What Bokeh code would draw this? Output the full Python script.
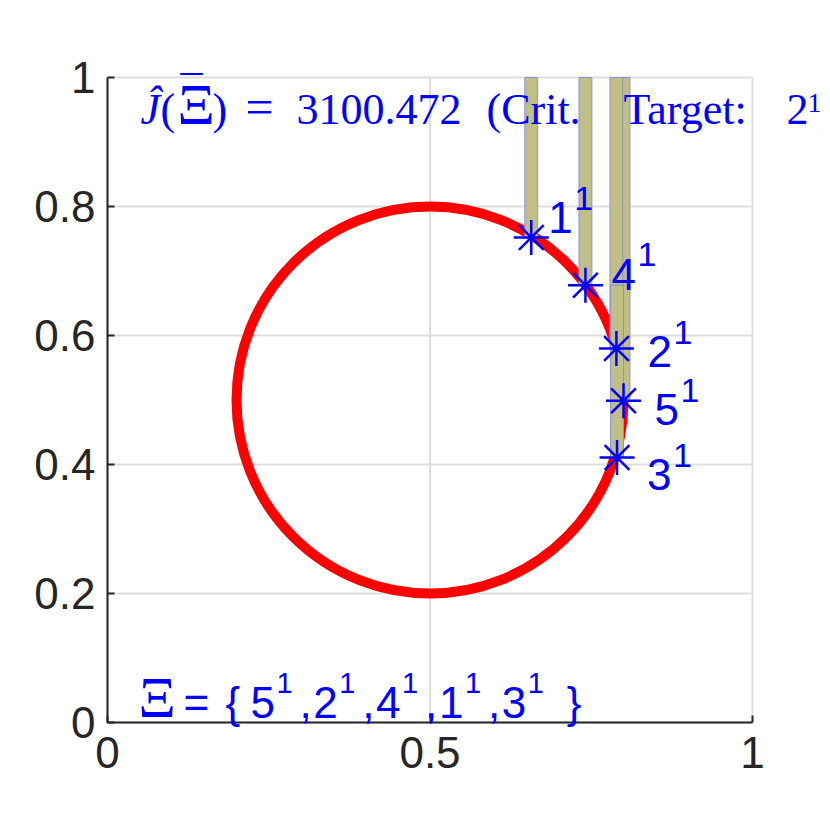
from bokeh.plotting import figure
from bokeh.models import Range1d, Label, ColumnDataSource, FixedTicker, CustomJSTickFormatter
from bokeh.embed import file_html
from bokeh.resources import INLINE
from bokeh.core.properties import value

# ---------------- data ----------------
circle_center_x = [0.5]
circle_center_y = [0.5]
circle_radius = [0.3]

point_ids = [1, 4, 5, 2, 3]
point_x = [0.657, 0.741, 0.800, 0.789, 0.790]
point_y = [0.752, 0.678, 0.499, 0.580, 0.411]
point_power = [1, 1, 1, 1, 1]
bar_top = [1.35, 1.35, 1.35, 1.35, 0.678]

sequence = [5, 2, 4, 1, 3]
sequence_power = [1, 1, 1, 1, 1]

j_value = 3100.472
crit_target = 2
crit_power = 1

x_ticks = [0, 0.5, 1]
y_ticks = [0, 0.2, 0.4, 0.6, 0.8, 1]
axis_bounds = (0, 1)

# ---------------- layout (positions / styles) ----------------
W = H = 822
FRAME = 645.0
LEFT_PX, BOTTOM_PX = 107.0, 722.0
K_BASE = 0.364  # baseline correction, fraction of font size


def sx(px):
    return (px - LEFT_PX) / FRAME


def sy(py):
    return (BOTTOM_PX - py) / FRAME


BLUE = "#0000FF"
DARK = "#262626"
SANS = "Liberation Sans"
SERIF = "Liberation Serif"

p = figure(width=W, height=H, output_backend="svg", toolbar_location=None, title=None,
           x_range=Range1d(sx(0), sx(W)), y_range=Range1d(sy(H), sy(0)), min_border=0)
p.outline_line_color = None
p.background_fill_color = "white"
p.border_fill_color = "white"
p.grid.visible = False

fmt = CustomJSTickFormatter(code="return String(tick);")
for ax, ticks in ((p.xaxis, x_ticks), (p.yaxis, y_ticks)):
    ax.ticker = FixedTicker(ticks=ticks)
    ax.formatter = fmt
    ax.fixed_location = 0
    ax.bounds = axis_bounds
    ax.axis_line_color = DARK
    ax.axis_line_width = 2
    ax.major_tick_line_color = DARK
    ax.major_tick_line_width = 2
    ax.major_tick_in = 7
    ax.major_tick_out = 0
    ax.minor_tick_line_color = None
    ax.major_label_text_font = SANS
    ax.major_label_text_font_size = "44px"
    ax.major_label_text_color = DARK
p.xaxis.major_label_standoff = 14
p.yaxis.major_label_standoff = 12

# grid lines (bounded to the axes box)
lo, hi = axis_bounds
p.segment(x0=x_ticks, y0=[lo] * len(x_ticks), x1=x_ticks, y1=[hi] * len(x_ticks),
          line_color="#dedede", line_width=2)
p.segment(x0=[lo] * len(y_ticks), y0=y_ticks, x1=[hi] * len(y_ticks), y1=y_ticks,
          line_color="#dedede", line_width=2)

# red circle
p.circle(x=circle_center_x, y=circle_center_y, radius=circle_radius,
         fill_color=None, line_color="#FF0000", line_width=10)

# bars (clipped at the top of the axes box)
src = ColumnDataSource(dict(x=point_x, y=point_y, top=[min(t, hi) for t in bar_top]))
p.vbar(x="x", bottom="y", top="top", width=0.02, source=src,
       fill_color="#BFBF86", line_color="#8F8FD8", line_width=1)

# stars
p.scatter(x="x", y="y", source=src, marker="asterisk", size=35,
          line_color=BLUE, line_width=2.5)

# point labels: (dx px to text start, dy px of baseline below point)
lab_dx = {1: 17, 4: 26, 2: 31, 5: 31, 3: 30}
lab_dy = {1: -4, 4: 5, 2: 19, 5: 25, 3: 33}
MAIN_FS, SUP_FS = 44, 34
lx, ly, sxs, sys_, mt, st = [], [], [], [], [], []
for pid, x, y, pw in zip(point_ids, point_x, point_y, point_power):
    base_px = (BOTTOM_PX - y * FRAME) + lab_dy[pid]
    bx = x + lab_dx[pid] / FRAME
    lx.append(bx)
    ly.append(sy(base_px - K_BASE * MAIN_FS))
    mt.append(str(pid))
    sxs.append(bx + 26 / FRAME)
    sys_.append(sy(base_px - 23 - K_BASE * SUP_FS))
    st.append(str(pw))
p.text(x=lx, y=ly, text=mt, text_font=value(SANS), text_font_size=value(f"{MAIN_FS}px"),
       text_color=BLUE, text_align="left", text_baseline="alphabetic")
p.text(x=sxs, y=sys_, text=st, text_font=value(SANS), text_font_size=value(f"{SUP_FS}px"),
       text_color=BLUE, text_align="left", text_baseline="alphabetic")


def lab(text, px, py, font=SANS, size=44, style="normal"):
    p.add_layout(Label(x=sx(px), y=sy(py - K_BASE * size), text=text, text_font=font,
                       text_font_size=f"{size}px", text_font_style=style, text_color=BLUE,
                       text_align="left", text_baseline="alphabetic"))


# title-like text
tb = 125
lab("\u0134", 140, tb, SERIF, 44, "italic")
lab("(", 160, tb, SERIF)
lab("\u039E", 177, tb, SERIF, 58)
lab("\u00AF", 180, tb - 17, SERIF, 44)
lab(")", 212, tb, SERIF)
lab("=", 245, tb, SERIF, 50)
lab(f"{j_value:.3f}", 296, tb, SERIF)
lab("(Crit.", 486, tb, SERIF)
lab("Target:", 623, tb, SERIF)
lab(str(crit_target), 786, tb, SERIF)
lab(str(crit_power), 807, 113, SERIF, 28)
lab(")", 820, tb, SERIF)

# bottom sequence text
bb = 718
lab("\u039E", 138, bb, SERIF, 58)
lab("=", 183, bb)
lab("{", 225, bb)
pitch = 62.8
x0 = 250
for i, (n, pw) in enumerate(zip(sequence, sequence_power)):
    xi = x0 + pitch * i
    lab(str(n), xi, bb)
    lab(str(pw), xi + 26, bb - 25, SANS, 29)
    if i < len(sequence) - 1:
        lab(",", xi + 49, bb)
lab("}", x0 + pitch * (len(sequence) - 1) + 65, bb)

open("out.html", "w").write(file_html(p, INLINE))
